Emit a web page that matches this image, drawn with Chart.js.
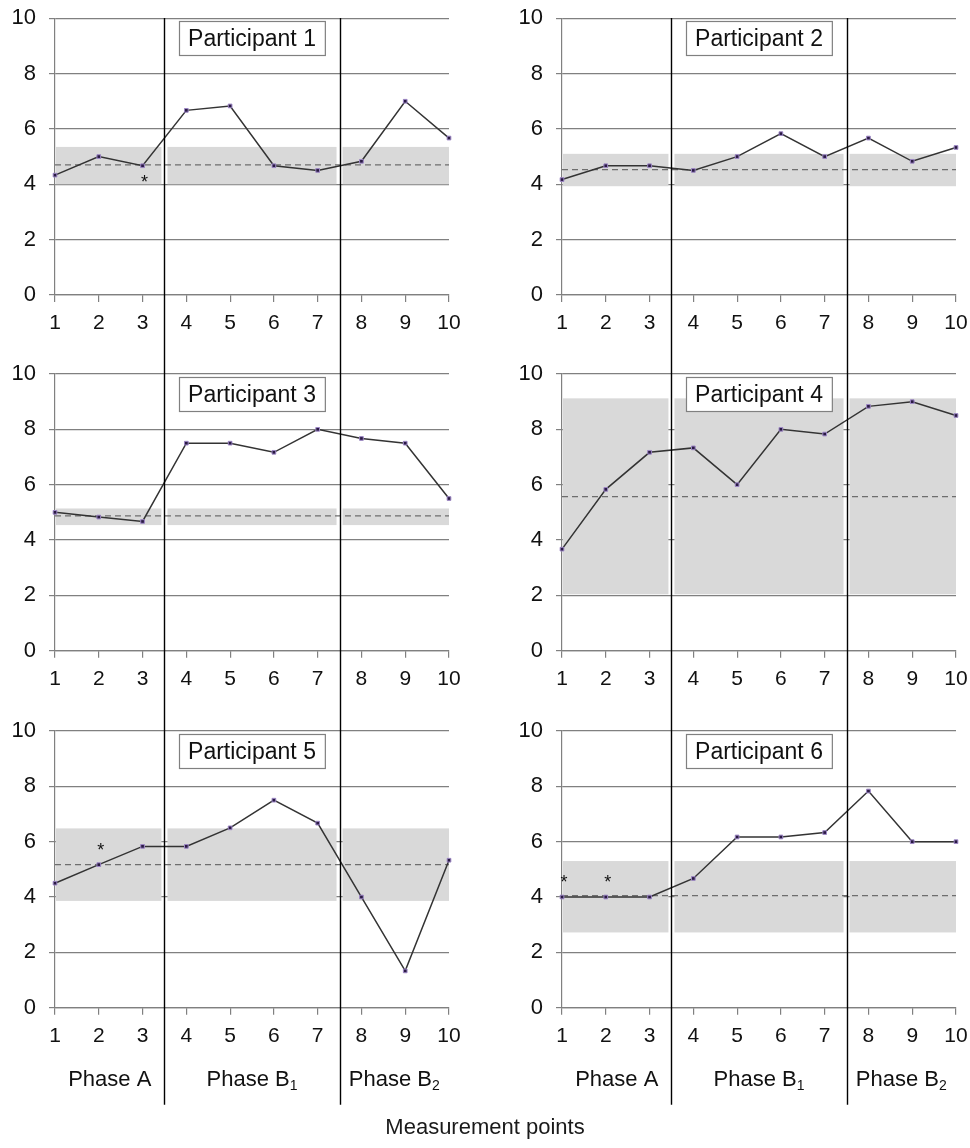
<!DOCTYPE html>
<html>
<head>
<meta charset="utf-8">
<script src="https://cdn.jsdelivr.net/npm/chart.js@4.4.0/dist/chart.umd.min.js"></script>
<style>
  html, body { margin: 0; padding: 0; background: #fff; }
  #wrap { position: relative; width: 970px; height: 1148px; overflow: hidden; }
  canvas { position: absolute; }
  #xtitle { position: absolute; left: 0; width: 970px; top: 1114px; text-align: center;
            font: 22px "Liberation Sans", Arial, sans-serif; color: #1a1a1a; line-height: 26px; }
</style>
</head>
<body>
<div id="wrap">
  <canvas id="c1" width="485" height="1156" style="left:0;top:-8px"></canvas>
  <canvas id="c2" width="515" height="1156" style="left:485px;top:-8px"></canvas>
  <canvas id="c3" width="485" height="1156" style="left:0;top:-8px"></canvas>
  <canvas id="c4" width="515" height="1156" style="left:485px;top:-8px"></canvas>
  <canvas id="c5" width="485" height="1156" style="left:0;top:-8px"></canvas>
  <canvas id="c6" width="515" height="1156" style="left:485px;top:-8px"></canvas>
  <div id="xtitle">Measurement points</div>
</div>
<script>
// Measurement points and scores per participant
const measurementPoints = [1, 2, 3, 4, 5, 6, 7, 8, 9, 10];
const participant1 = [4.33, 5.0, 4.67, 6.67, 6.83, 4.67, 4.5, 4.83, 7.0, 5.67];
const participant2 = [4.17, 4.67, 4.67, 4.5, 5.0, 5.83, 5.0, 5.67, 4.83, 5.33];
const participant3 = [5.0, 4.83, 4.67, 7.5, 7.5, 7.17, 8.0, 7.67, 7.5, 5.5];
const participant4 = [3.67, 5.83, 7.17, 7.33, 6.0, 8.0, 7.83, 8.83, 9.0, 8.5];
const participant5 = [4.5, 5.17, 5.83, 5.83, 6.5, 7.5, 6.67, 4.0, 1.33, 5.33];
const participant6 = [4.0, 4.0, 4.0, 4.67, 6.17, 6.17, 6.33, 7.83, 6.0, 6.0];

// Baseline (phase A) mean and band limits per participant
const baselineMean = [4.7, 4.53, 4.87, 5.57, 5.17, 4.05];
const bandLower = [4.0, 3.93, 4.54, 2.04, 3.86, 2.72];
const bandUpper = [5.35, 5.1, 5.14, 9.12, 6.48, 5.3];

// Phase boundaries and names
const phaseBreaks = [3.5, 7.5];
const phaseNames = [['Phase A', ''], ['Phase B', '1'], ['Phase B', '2']];
const yTicks = [0, 2, 4, 6, 8, 10];

// Asterisk annotations: measurement point and side
const asterisks = [
  [{ point: 3, side: 'below' }],
  [],
  [],
  [],
  [{ point: 2, side: 'above' }],
  [{ point: 1, side: 'above' }, { point: 2, side: 'above' }]
];

const series = [participant1, participant2, participant3, participant4, participant5, participant6];
const FONT = '"Liberation Sans", Arial, sans-serif';
const GRID = '#808080';

// vertical layout of the three rows inside each column canvas (canvas y)
const rowTop = [26, 382, 739];
const rowBottom = [303, 658.7, 1015.7];
const CANVAS_H = 1156;
const X_AXIS_H = 40;

const panelDecor = {
  id: 'panelDecor',
  beforeDatasetsDraw(chart, args, o) {
    const { ctx, scales: { x, y } } = chart;
    const yTop = y.getPixelForValue(o.upper);
    const yBot = y.getPixelForValue(o.lower);
    const edges = [x.min, ...phaseBreaks, x.max].map(v => x.getPixelForValue(v));
    ctx.save();
    ctx.fillStyle = '#d9d9d9';
    for (let i = 0; i < edges.length - 1; i++) {
      const l = edges[i] + (i > 0 ? 3 : 1);
      const r = edges[i + 1] - (i < edges.length - 2 ? 3 : 0);
      ctx.fillRect(l, yTop, r - l, yBot - yTop);
    }
    ctx.restore();
  },
  afterDatasetsDraw(chart, args, o) {
    const { ctx, chartArea: a, scales: { x, y } } = chart;
    ctx.save();
    // participant label box
    ctx.font = '23px ' + FONT;
    const label = o.title;
    const tw = ctx.measureText(label).width;
    const cx = (a.left + a.right) / 2;
    const bw = tw + 18, bh = 34;
    const bx = Math.round(cx - bw / 2) + 0.5, by = Math.round(a.top + 3) + 0.5;
    ctx.fillStyle = '#fff';
    ctx.fillRect(bx, by, bw, bh);
    ctx.strokeStyle = '#808080';
    ctx.lineWidth = 1.2;
    ctx.strokeRect(bx, by, bw, bh);
    ctx.fillStyle = '#111';
    ctx.textAlign = 'center';
    ctx.textBaseline = 'middle';
    ctx.fillText(label, cx, by + bh / 2 + 1);
    // asterisks
    ctx.font = '18px ' + FONT;
    o.stars.forEach(s => {
      const px = x.getPixelForValue(s.point) + 2;
      const py = y.getPixelForValue(o.values[s.point - 1]);
      ctx.fillText('*', px, s.side === 'below' ? py + 17 : py - 14);
    });
    // bottom row: phase separators through the whole column, and phase names
    if (o.row === 2) {
      ctx.strokeStyle = '#000';
      ctx.lineWidth = 1.4;
      phaseBreaks.forEach(b => {
        const px = Math.round(x.getPixelForValue(b)) + 0.5;
        ctx.beginPath();
        ctx.moveTo(px, rowTop[0]);
        ctx.lineTo(px, a.bottom + 97);
        ctx.stroke();
      });
      const bounds = [x.min, ...phaseBreaks, x.max];
      phaseNames.forEach((n, i) => {
        const pc = x.getPixelForValue((bounds[i] + bounds[i + 1]) / 2);
        ctx.font = '22px ' + FONT;
        const w1 = ctx.measureText(n[0]).width;
        ctx.font = '14px ' + FONT;
        const w2 = n[1] ? ctx.measureText(n[1]).width : 0;
        const start = pc - (w1 + w2) / 2;
        ctx.textAlign = 'left';
        ctx.textBaseline = 'alphabetic';
        ctx.font = '22px ' + FONT;
        ctx.fillText(n[0], start, a.bottom + 78);
        if (n[1]) {
          ctx.font = '14px ' + FONT;
          ctx.fillText(n[1], start + w1, a.bottom + 82);
        }
      });
    }
    ctx.restore();
  }
};

function makePanel(idx) {
  const col = idx % 2, row = Math.floor(idx / 2);
  const values = series[idx];
  const pad = {
    left: col === 0 ? 5 : 27,
    right: col === 0 ? 36 : 44,
    top: rowTop[row],
    bottom: CANVAS_H - X_AXIS_H - rowBottom[row]
  };
  new Chart(document.getElementById('c' + (idx + 1)), {
    type: 'line',
    data: {
      datasets: [
        {
          data: measurementPoints.map((m, i) => ({ x: m, y: values[i] })),
          borderColor: '#333333',
          borderWidth: 1.5,
          pointStyle: 'rect',
          pointRadius: 2.6,
          pointBackgroundColor: '#2a1a44',
          pointBorderColor: '#9c86c4',
          pointBorderWidth: 1,
          tension: 0,
          clip: false
        },
        {
          data: measurementPoints.map(m => ({ x: m, y: baselineMean[idx] })),
          borderColor: '#6e6e6e',
          borderWidth: 1.3,
          borderDash: [6, 4],
          pointRadius: 0,
          tension: 0
        }
      ]
    },
    options: {
      responsive: false,
      animation: false,
      events: [],
      layout: { padding: pad },
      plugins: {
        legend: { display: false },
        tooltip: { enabled: false },
        panelDecor: {
          row, title: 'Participant ' + (idx + 1),
          lower: bandLower[idx], upper: bandUpper[idx],
          stars: asterisks[idx], values
        }
      },
      scales: {
        x: {
          type: 'linear',
          min: measurementPoints[0],
          max: measurementPoints[measurementPoints.length - 1],
          afterBuildTicks: s => { s.ticks = measurementPoints.map(v => ({ value: v })); },
          afterFit: s => { s.height = X_AXIS_H; },
          grid: { drawOnChartArea: false, drawTicks: true, tickLength: 7, color: GRID, tickColor: GRID, lineWidth: 1.2 },
          border: { color: GRID, width: 1.2 },
          ticks: { color: '#111', font: { family: FONT, size: 21 }, padding: 9, maxRotation: 0, autoSkip: false }
        },
        y: {
          min: 0, max: 10,
          afterBuildTicks: s => { s.ticks = yTicks.map(v => ({ value: v })); },
          afterFit: s => { s.width = 50; },
          grid: { color: GRID, lineWidth: 1.2, tickLength: 6, tickColor: GRID },
          border: { color: GRID, width: 1.2 },
          ticks: { color: '#111', font: { family: FONT, size: 22 }, padding: 13 }
        }
      }
    },
    plugins: [panelDecor]
  });
}

for (let i = 0; i < 6; i++) makePanel(i);
</script>
</body>
</html>
